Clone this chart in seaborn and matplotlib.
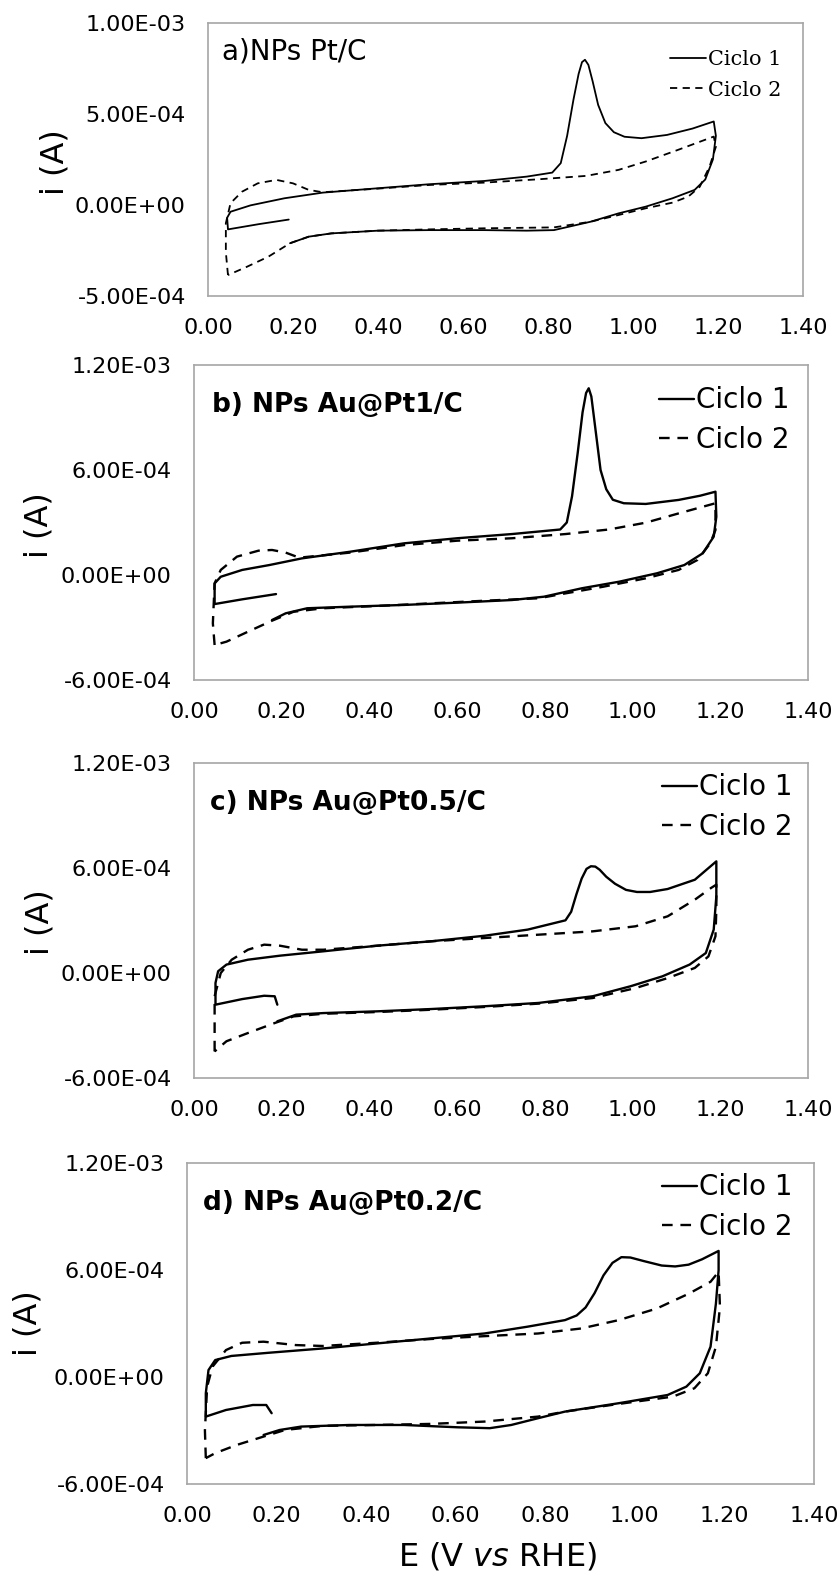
import numpy as np
import matplotlib
matplotlib.use("Agg")
import matplotlib.pyplot as plt
import seaborn as sns
from matplotlib.ticker import FuncFormatter

sns.set_style("white")
plt.rcParams['font.family'] = ['DejaVu Sans']
plt.rcParams['mathtext.fontset'] = 'dejavusans'
plt.rcParams['text.color'] = 'black'
plt.rcParams['xtick.color'] = 'black'
plt.rcParams['ytick.color'] = 'black'

# ---------------- dados (i em unidades de 1e-4 A) ----------------
# a) NPs Pt/C
a_E1 = [0.19, 0.12, 0.047, 0.045, 0.053, 0.10, 0.18, 0.27, 0.40, 0.52, 0.65, 0.75, 0.81, 0.83,
        0.845, 0.86, 0.872, 0.88, 0.887, 0.895, 0.905, 0.918, 0.935, 0.955, 0.98, 1.02, 1.08,
        1.14, 1.19, 1.195, 1.188, 1.17, 1.145, 1.093, 1.03, 0.966, 0.90, 0.814, 0.75, 0.65,
        0.52, 0.40, 0.29, 0.237, 0.193]
a_i1 = [-0.80, -1.05, -1.34, -0.70, -0.37, -0.02, 0.37, 0.68, 0.92, 1.14, 1.32, 1.56, 1.78, 2.3,
        3.8, 5.8, 7.2, 7.85, 7.98, 7.7, 6.8, 5.5, 4.5, 4.0, 3.75, 3.67, 3.85,
        4.2, 4.59, 3.8, 2.5, 1.4, 0.83, 0.37, -0.09, -0.46, -0.92, -1.38, -1.41, -1.38,
        -1.38, -1.41, -1.56, -1.74, -2.1]
a_E2 = [0.047, 0.042, 0.042, 0.053, 0.08, 0.117, 0.161, 0.20, 0.237, 0.27, 0.40, 0.52, 0.65,
        0.776, 0.89, 0.966, 1.03, 1.106, 1.19, 1.195, 1.18, 1.157, 1.13, 1.093, 1.03, 0.966,
        0.90, 0.814, 0.65, 0.52, 0.40, 0.29, 0.237, 0.193, 0.142, 0.091, 0.047]
a_i2 = [-3.85, -2.6, -1.0, 0.1, 0.73, 1.19, 1.38, 1.19, 0.83, 0.70, 0.90, 1.10, 1.23,
        1.41, 1.60, 1.93, 2.39, 3.03, 3.76, 3.2, 2.1, 1.0, 0.46, 0.13, -0.18, -0.55,
        -0.92, -1.23, -1.28, -1.34, -1.41, -1.56, -1.74, -2.1, -2.84, -3.4, -3.85]

# b) NPs Au@Pt1/C
b_E1 = [0.187, 0.11, 0.047, 0.047, 0.061, 0.11, 0.172, 0.246, 0.356, 0.479, 0.60, 0.725, 0.835,
        0.85, 0.862, 0.875, 0.886, 0.894, 0.90, 0.906, 0.915, 0.927, 0.94, 0.955, 0.98, 1.03,
        1.105, 1.154, 1.189, 1.191, 1.185, 1.16, 1.118, 1.056, 0.97, 0.884, 0.798, 0.725, 0.60,
        0.479, 0.356, 0.258, 0.209, 0.178]
b_i1 = [-1.09, -1.39, -1.66, -0.48, -0.10, 0.29, 0.57, 0.95, 1.33, 1.81, 2.10, 2.34, 2.60,
        3.0, 4.5, 7.0, 9.3, 10.4, 10.67, 10.2, 8.4, 6.0, 4.9, 4.3, 4.1, 4.06,
        4.29, 4.53, 4.76, 3.33, 2.19, 1.24, 0.57, 0.10, -0.38, -0.76, -1.24, -1.43, -1.58,
        -1.71, -1.81, -1.90, -2.19, -2.57]
b_E2 = [0.047, 0.043, 0.047, 0.061, 0.098, 0.147, 0.178, 0.209, 0.24, 0.356, 0.479, 0.60, 0.725,
        0.847, 0.946, 1.03, 1.105, 1.189, 1.189, 1.177, 1.148, 1.105, 1.03, 0.933, 0.847, 0.786,
        0.663, 0.54, 0.418, 0.295, 0.227, 0.178, 0.123, 0.074, 0.047]
b_i2 = [-4.0, -2.76, -0.48, 0.29, 1.05, 1.39, 1.43, 1.28, 0.99, 1.28, 1.71, 1.96, 2.10,
        2.34, 2.60, 2.99, 3.52, 4.10, 2.57, 1.81, 0.86, 0.29, -0.19, -0.67, -1.05, -1.33,
        -1.47, -1.62, -1.77, -1.90, -2.10, -2.61, -3.24, -3.81, -4.0]

# c) NPs Au@Pt0.5/C
c_E1 = [0.19, 0.184, 0.16, 0.11, 0.049, 0.049, 0.055, 0.074, 0.123, 0.196, 0.295, 0.418, 0.54,
        0.663, 0.761, 0.847, 0.86, 0.872, 0.884, 0.895, 0.905, 0.915, 0.925, 0.94, 0.96, 0.985,
        1.01, 1.04, 1.08, 1.142, 1.191, 1.191, 1.185, 1.167, 1.13, 1.068, 0.995, 0.909, 0.786,
        0.663, 0.54, 0.418, 0.295, 0.233, 0.19]
c_i1 = [-1.81, -1.33, -1.30, -1.49, -1.81, -0.57, 0.10, 0.48, 0.76, 0.99, 1.24, 1.56, 1.81,
        2.13, 2.48, 3.01, 3.5, 4.5, 5.4, 5.95, 6.1, 6.08, 5.9, 5.5, 5.1, 4.75,
        4.63, 4.63, 4.8, 5.33, 6.38, 4.38, 2.48, 1.14, 0.48, -0.19, -0.76, -1.33, -1.71,
        -1.90, -2.06, -2.19, -2.29, -2.38, -2.76]
c_E2 = [0.047, 0.047, 0.061, 0.086, 0.123, 0.16, 0.196, 0.246, 0.295, 0.418, 0.54, 0.663, 0.786,
        0.909, 1.007, 1.08, 1.142, 1.179, 1.191, 1.191, 1.189, 1.173, 1.142, 1.08, 1.007, 0.909,
        0.786, 0.663, 0.54, 0.418, 0.295, 0.227, 0.184, 0.123, 0.074, 0.047]
c_i2 = [-4.48, -1.33, 0.0, 0.76, 1.33, 1.62, 1.56, 1.33, 1.33, 1.56, 1.81, 2.00, 2.19,
        2.38, 2.67, 3.24, 4.19, 4.86, 5.05, 3.62, 2.10, 0.95, 0.29, -0.29, -0.86, -1.43,
        -1.75, -1.94, -2.10, -2.23, -2.33, -2.48, -2.86, -3.43, -3.90, -4.48]

# d) NPs Au@Pt0.2/C
d_E1 = [0.189, 0.177, 0.147, 0.087, 0.042, 0.042, 0.048, 0.063, 0.099, 0.183, 0.303, 0.423, 0.544,
        0.664, 0.76, 0.844, 0.87, 0.89, 0.91, 0.93, 0.95, 0.97, 0.99, 1.02, 1.06, 1.09, 1.12,
        1.15, 1.187, 1.187, 1.181, 1.169, 1.145, 1.115, 1.073, 0.964, 0.844, 0.784, 0.724, 0.676,
        0.604, 0.484, 0.363, 0.255, 0.207, 0.171]
d_i1 = [-2.03, -1.57, -1.57, -1.85, -2.22, -0.91, 0.39, 0.95, 1.18, 1.36, 1.60, 1.88, 2.16,
        2.44, 2.82, 3.19, 3.45, 3.9, 4.7, 5.7, 6.4, 6.72, 6.7, 6.5, 6.25, 6.2, 6.3,
        6.6, 7.07, 5.99, 4.12, 1.70, 0.21, -0.54, -1.01, -1.47, -1.94, -2.31, -2.69, -2.87,
        -2.82, -2.69, -2.69, -2.78, -2.97, -3.25]
d_E2 = [0.042, 0.040, 0.045, 0.057, 0.087, 0.123, 0.171, 0.243, 0.303, 0.423, 0.544, 0.664, 0.784,
        0.88, 0.964, 1.049, 1.121, 1.169, 1.187, 1.19, 1.181, 1.163, 1.133, 1.085, 0.964, 0.844,
        0.784, 0.664, 0.544, 0.423, 0.303, 0.219, 0.171, 0.111, 0.063, 0.042]
d_i2 = [-4.55, -3.0, -0.54, 0.58, 1.51, 1.92, 1.98, 1.79, 1.74, 1.92, 2.13, 2.29, 2.44,
        2.72, 3.19, 3.84, 4.68, 5.34, 5.90, 3.94, 1.70, 0.21, -0.63, -1.10, -1.51, -1.94,
        -2.22, -2.50, -2.63, -2.69, -2.74, -2.97, -3.34, -3.81, -4.27, -4.55]

titulos = ['a)NPs Pt/C', 'b) NPs Au@Pt1/C', 'c) NPs Au@Pt0.5/C', 'd) NPs Au@Pt0.2/C']
legendas = ['Ciclo 1', 'Ciclo 2']
xticks = [0.0, 0.2, 0.4, 0.6, 0.8, 1.0, 1.2, 1.4]
yticks_a = [-5e-4, 0.0, 5e-4, 1e-3]
yticks_bcd = [-6e-4, 0.0, 6e-4, 1.2e-3]

# ---------------- figura ----------------
W, H = 840, 1577
fig = plt.figure(figsize=(W / 100, H / 100), dpi=100)

# caixas em pixels: (esq, dir, topo, base)
caixas = [(208, 803, 23, 296), (194, 808, 365, 680), (194, 808, 763, 1078), (187, 814, 1163, 1484)]
dados = [(a_E1, a_i1, a_E2, a_i2), (b_E1, b_i1, b_E2, b_i2),
         (c_E1, c_i1, c_E2, c_i2), (d_E1, d_i1, d_E2, d_i2)]
titulo_pos = [(0.024, 0.894), (0.029, 0.873), (0.026, 0.873), (0.026, 0.875)]
leg_pos = [(660, 75), (645, 420), (648, 807), (648, 1207)]
ylab_pos = [(55, 162), (39, 525), (40, 922), (28, 1323)]

gray = '#a6a6a6'
for k in range(4):
    l, r, t, b = caixas[k]
    ax = fig.add_axes([l / W, 1 - b / H, (r - l) / W, (b - t) / H])
    E1, i1, E2, i2 = dados[k]
    if k == 0:
        lw, dash = 1.3, (0, (4, 3))
    else:
        lw, dash = 1.7, (0, (4.5, 3.3))
    sns.lineplot(x=E1, y=np.array(i1) * 1e-4, sort=False, estimator=None, color='black',
                 linewidth=lw, ax=ax, label=legendas[0])
    sns.lineplot(x=E2, y=np.array(i2) * 1e-4, sort=False, estimator=None, color='black',
                 linewidth=lw, linestyle=dash, ax=ax, label=legendas[1])

    ax.set_xlim(0, 1.4)
    ax.set_xticks(xticks)
    ax.xaxis.set_major_formatter(FuncFormatter(lambda v, p: f'{v:.2f}'))
    if k == 0:
        ax.set_ylim(-5e-4, 1e-3)
        ax.set_yticks(yticks_a)
    else:
        ax.set_ylim(-6e-4, 1.2e-3)
        ax.set_yticks(yticks_bcd)
    ax.yaxis.set_major_formatter(FuncFormatter(lambda v, p: f'{v:.2E}'))
    ax.tick_params(length=0, labelsize=16, colors='black')
    ax.tick_params(axis='y', pad=16)
    ax.tick_params(axis='x', pad=16)
    ax.set_xlabel('')
    ax.set_ylabel('')
    for s in ax.spines.values():
        s.set_color(gray)
        s.set_linewidth(1.2)

    tx, ty = titulo_pos[k]
    if k == 0:
        ax.text(tx, ty, titulos[k], transform=ax.transAxes, fontsize=20, va='center', ha='left')
        leg = ax.legend(loc='center left', bbox_to_anchor=(leg_pos[k][0] / W, 1 - leg_pos[k][1] / H),
                        bbox_transform=fig.transFigure, frameon=False, borderpad=0,
                        handlelength=1.7, handletextpad=0.1, labelspacing=0.55,
                        prop={'family': 'DejaVu Serif', 'size': 15})
    else:
        ax.text(tx, ty, titulos[k], transform=ax.transAxes, fontsize=19, fontweight='bold',
                va='center', ha='left')
        leg = ax.legend(loc='center left', bbox_to_anchor=(leg_pos[k][0] / W, 1 - leg_pos[k][1] / H),
                        bbox_transform=fig.transFigure, frameon=False, borderpad=0,
                        handlelength=1.25, handletextpad=0.1, labelspacing=0.4,
                        prop={'size': 20})
    for h in leg.get_lines():
        h.set_linewidth(lw)
    for txt in leg.get_texts():
        txt.set_color('black')

    yx, yy = ylab_pos[k]
    fig.text(yx / W, 1 - yy / H, 'i (A)', rotation=90, fontsize=23, ha='center', va='center')

fig.text(497 / W, 1 - 1557 / H, r'E (V $\mathit{vs}$ RHE)', fontsize=23, ha='center', va='center')

fig.savefig('out.png', dpi=100)
